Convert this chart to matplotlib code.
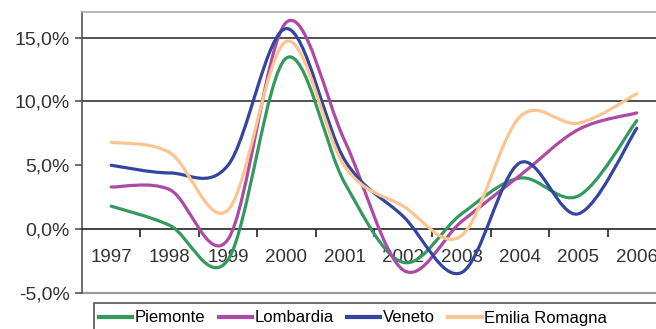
import numpy as np
import matplotlib.pyplot as plt
from matplotlib.path import Path
from matplotlib.patches import PathPatch, Rectangle
from matplotlib.lines import Line2D

plt.rcParams['font.family'] = ['Liberation Sans', 'DejaVu Sans']

years = ['1997', '1998', '1999', '2000', '2001', '2002', '2003', '2004', '2005', '2006']
piemonte = [1.8, 0.3, -2.4, 13.4, 3.6, -2.6, 1.2, 4.0, 2.6, 8.5]
lombardia = [3.3, 3.1, -0.8, 16.2, 6.9, -3.2, 0.6, 4.2, 7.8, 9.1]
veneto = [5.0, 4.4, 5.0, 15.7, 5.4, 1.0, -3.4, 5.2, 1.2, 7.9]
emilia = [6.8, 6.0, 1.5, 14.7, 4.9, 1.8, -0.5, 8.8, 8.3, 10.6]

series = [('Piemonte', piemonte, '#33995f'),
          ('Lombardia', lombardia, '#ad4aa5'),
          ('Veneto', veneto, '#3345a0'),
          ('Emilia Romagna', emilia, '#fbc592')]


def smooth_path(x, y):
    # Excel-like smoothed line: Catmull-Rom drawn as cubic Bezier segments
    pts = np.column_stack([x, y]).astype(float)
    ext = np.vstack([pts[0], pts, pts[-1]])
    verts = [pts[0]]
    codes = [Path.MOVETO]
    for i in range(len(pts) - 1):
        p0, p1, p2, p3 = ext[i], ext[i + 1], ext[i + 2], ext[i + 3]
        verts += [p1 + (p2 - p0) / 6, p2 - (p3 - p1) / 6, p2]
        codes += [Path.CURVE4] * 3
    return Path(verts, codes)


fig = plt.figure(figsize=(6.56, 3.29), dpi=100)
ax = fig.add_axes([82 / 656, 36 / 329, 584 / 656, 281 / 329])

x = np.arange(len(years))
for name, vals, color in series:
    ax.add_patch(PathPatch(smooth_path(x, vals), fill=False, edgecolor=color,
                           lw=2.3, capstyle='round', joinstyle='round', zorder=3))

ax.set_xlim(-0.5, len(years) - 0.5)
ax.set_ylim(-5, 17)

for v in [10, 15]:
    ax.axhline(v, color='#333333', lw=1.2, zorder=1)
ax.axhline(-5, color='#9a9a9a', lw=1.6, clip_on=False, zorder=1)

ax.spines['right'].set_visible(False)
ax.spines['top'].set_color('#aaaaaa')
ax.spines['top'].set_linewidth(1.2)
ax.spines['left'].set_color('#555555')
ax.spines['left'].set_linewidth(1.2)
ax.spines['bottom'].set_position(('data', 0))
ax.spines['bottom'].set_color('#222222')
ax.spines['bottom'].set_linewidth(1.2)

ax.set_yticks([-5, 0, 5, 10, 15])
ax.set_yticklabels([f'{v:.1f}%'.replace('.', ',') for v in [-5, 0, 5, 10, 15]])
ax.tick_params(axis='y', length=5, width=1.2, color='#555555', labelsize=14,
               labelcolor='#333333', pad=4)

ax.set_xticks(x)
ax.set_xticklabels(years)
ax.set_xticks(np.arange(0.5, len(years) - 0.5), minor=True)
ax.tick_params(axis='x', which='major', length=0, pad=14, labelsize=13.5,
               labelcolor='#333333')
ax.tick_params(axis='x', which='minor', length=6, width=1.2, color='#222222',
               direction='out')

# legend box running off the right edge
fig.patches.append(Rectangle((94 / 656, -0.05), 0.95, (26 / 329) + 0.05,
                             transform=fig.transFigure, fill=False,
                             edgecolor='#555555', lw=1.2))
handles = [Line2D([], [], color=c, lw=3) for _, _, c in series]
fig.legend(handles, [n for n, _, _ in series], loc='center left',
           bbox_to_anchor=(99 / 656, 11 / 329), ncol=4, frameon=False,
           fontsize=12, handlelength=2.0, handletextpad=0.15,
           columnspacing=0.8, borderpad=0, borderaxespad=0)

plt.savefig('out.png', dpi=100)
